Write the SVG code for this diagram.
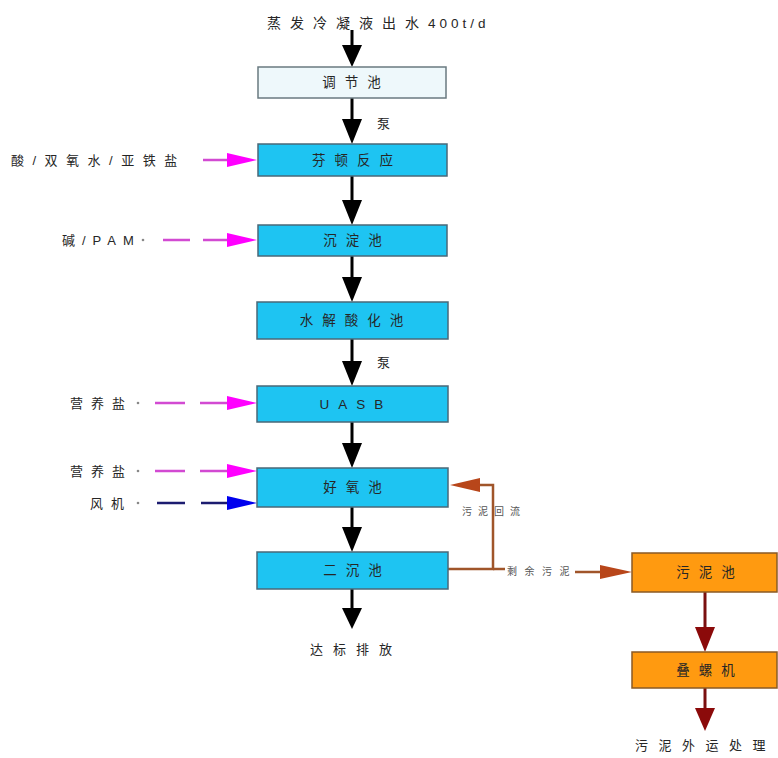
<svg xmlns="http://www.w3.org/2000/svg" width="778" height="758" viewBox="0 0 778 758">
<defs>
<style>
.box{fill:#1ec4f2;stroke:#4a6878;stroke-width:1.5}
.box0{fill:#eef8fb;stroke:#6a7a80;stroke-width:1.5}
.obox{fill:#ff9a10;stroke:#8a5a25;stroke-width:1.5}
.t{font-family:"Liberation Sans","Noto Sans CJK SC",sans-serif;fill:#262626}
.bt{font-size:13.5px;letter-spacing:9px;text-anchor:middle}
.lt{font-size:13px;letter-spacing:8px}
.st{font-size:10px;letter-spacing:5px;fill:#555}
.blk{stroke:#000;stroke-width:3;fill:none}
.mag{stroke:#d24ad2;stroke-width:2.5;fill:none;stroke-dasharray:28 14}
.nav{stroke:#1c1c70;stroke-width:2.5;fill:none;stroke-dasharray:28 14}
.brn{stroke:#a0552a;stroke-width:2.5;fill:none}
.drd{stroke:#7a1010;stroke-width:3;fill:none}
</style>
</defs>
<g id="connectors">
<line class="blk" x1="352" y1="30" x2="352" y2="48"/><polygon points="342,45 362,45 352,67" fill="#000"/>
<line class="blk" x1="352" y1="98" x2="352" y2="122"/><polygon points="342,119 362,119 352,144" fill="#000"/>
<line class="blk" x1="352" y1="176" x2="352" y2="203"/><polygon points="342,200 362,200 352,225" fill="#000"/>
<line class="blk" x1="352" y1="256" x2="352" y2="280"/><polygon points="342,277 362,277 352,302" fill="#000"/>
<line class="blk" x1="352" y1="339" x2="352" y2="364"/><polygon points="342,361 362,361 352,386" fill="#000"/>
<line class="blk" x1="352" y1="422" x2="352" y2="446"/><polygon points="342,443 362,443 352,468" fill="#000"/>
<line class="blk" x1="352" y1="507" x2="352" y2="530"/><polygon points="342,527 362,527 352,552" fill="#000"/>
<line class="blk" x1="352" y1="589" x2="352" y2="611"/><polygon points="342,608 362,608 352,629" fill="#000"/>
<line class="mag" x1="203" y1="160" x2="232" y2="160" style="stroke-dasharray:none"/><polygon points="227,153 257,160 227,167" fill="#ff00ff"/>
<circle cx="143" cy="240" r="1.3" fill="#888"/>
<line class="mag" x1="163" y1="240" x2="232" y2="240" style="stroke-dasharray:27 13"/><polygon points="227,233 257,240 227,247" fill="#ff00ff"/>
<circle cx="138" cy="403" r="1.3" fill="#888"/>
<line class="mag" x1="155" y1="403" x2="232" y2="403" style="stroke-dasharray:30 15"/><polygon points="227,396 257,403 227,410" fill="#ff00ff"/>
<circle cx="138" cy="471" r="1.3" fill="#888"/>
<line class="mag" x1="155" y1="471" x2="232" y2="471" style="stroke-dasharray:30 15"/><polygon points="227,464 257,471 227,478" fill="#ff00ff"/>
<circle cx="138" cy="503" r="1.3" fill="#888"/>
<line class="nav" x1="157" y1="503" x2="232" y2="503" style="stroke-dasharray:28 16"/><polygon points="227,496 257,503 227,510" fill="#0000ee"/>
<polyline class="brn" points="448,569 493,569 493,485 475,485"/>
<polygon points="480,478 450,485 480,492" fill="#b8461a"/>
<line class="brn" x1="493" y1="569" x2="505" y2="569"/>
<line class="brn" x1="575" y1="572" x2="605" y2="572"/>
<polygon points="600,565 632,572 600,579" fill="#b8461a"/>
<line class="drd" x1="705" y1="592" x2="705" y2="630"/><polygon points="695,627 715,627 705,652" fill="#8b0a0a"/>
<line class="drd" x1="705" y1="688" x2="705" y2="711"/><polygon points="695,708 715,708 705,731" fill="#8b0a0a"/>
</g>
<g id="title"><text class="t" x="267" y="28" style="font-size:14px;letter-spacing:9px">蒸发冷凝液出水<tspan style="letter-spacing:4px;font-size:13.5px">400t/d</tspan></text></g>
<g id="n-tjc"><rect class="box0" x="258" y="67" width="188" height="31"/><text class="t bt" x="356" y="87">调节池</text></g>
<g id="lbl-pump1"><text class="t" x="377" y="128" style="font-size:13px">泵</text></g>
<g id="n-fenton"><rect class="box" x="258" y="144" width="189" height="32"/><text class="t bt" x="357" y="165">芬顿反应</text></g>
<g id="in-fenton"><text class="t lt" x="11" y="165" style="letter-spacing:8.5px">酸/双氧水/亚铁盐</text></g>
<g id="n-cdc"><rect class="box" x="258" y="225" width="189" height="31"/><text class="t bt" x="357" y="245">沉淀池</text></g>
<g id="in-pam"><text class="t lt" x="62" y="245" style="letter-spacing:7px">碱/PAM</text></g>
<g id="n-sj"><rect class="box" x="257" y="302" width="191" height="37"/><text class="t bt" x="356" y="325">水解酸化池</text></g>
<g id="lbl-pump2"><text class="t" x="377" y="367" style="font-size:13px">泵</text></g>
<g id="n-uasb"><rect class="box" x="257" y="386" width="191" height="36"/><text class="t bt" x="356" y="409">UASB</text></g>
<g id="in-uasb"><text class="t lt" x="70" y="408">营养盐</text></g>
<g id="n-hy"><rect class="box" x="257" y="468" width="191" height="39"/><text class="t bt" x="357" y="492">好氧池</text></g>
<g id="in-hy1"><text class="t lt" x="70" y="476">营养盐</text></g>
<g id="in-hy2"><text class="t lt" x="90" y="508">风机</text></g>
<g id="lbl-return"><text class="t st" x="462" y="515" style="letter-spacing:6px">污泥回流</text></g>
<g id="n-ec"><rect class="box" x="257" y="552" width="191" height="37"/><text class="t bt" x="357" y="575">二沉池</text></g>
<g id="lbl-excess"><text class="t st" x="507" y="575" style="letter-spacing:7.5px">剩余污泥</text></g>
<g id="out"><text class="t lt" x="310" y="654" style="letter-spacing:10px">达标排放</text></g>
<g id="n-wnc"><rect class="obox" x="632" y="553" width="145" height="39"/><text class="t bt" x="710" y="577">污泥池</text></g>
<g id="n-dlj"><rect class="obox" x="632" y="652" width="145" height="36"/><text class="t bt" x="710" y="675">叠螺机</text></g>
<g id="out2"><text class="t lt" x="635" y="750" style="letter-spacing:10.5px">污泥外运处理</text></g>
</svg>
